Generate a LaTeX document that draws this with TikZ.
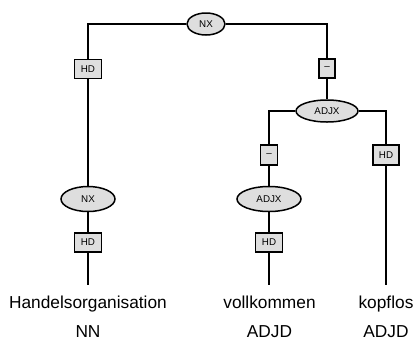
\documentclass[tikz,border=0pt]{standalone}
\usepackage{fontspec}
\setmainfont{Liberation Sans}
\usetikzlibrary{shapes.geometric}
\definecolor{nodefill}{HTML}{DEDEDE}
\begin{document}
\begin{tikzpicture}[x=1pt,y=-1pt,
  line width=1.6pt,
  cat/.style={ellipse,draw,fill=nodefill,inner sep=0pt,line width=1.5pt,font=\fontsize{9.8}{11}\selectfont},
  edgelab/.style={rectangle,draw,fill=nodefill,inner sep=0pt,line width=1.5pt,minimum height=19pt,font=\fontsize{9.8}{11}\selectfont},
  word/.style={anchor=base,inner xsep=0pt,inner ysep=9.4pt,text height=12.6pt,font=\fontsize{17.3}{20}\selectfont},
  tag/.style={anchor=base,inner sep=0pt,font=\fontsize{17.3}{20}\selectfont}]
\useasboundingbox (0,0) rectangle (415,341);
% category nodes
\node[cat,minimum width=38pt,minimum height=22pt] (nx1) at (206,24) {NX};
\node[cat,minimum width=62pt,minimum height=22pt] (adjx1) at (327,111) {ADJX};
\node[cat,minimum width=54pt,minimum height=25pt] (nx2) at (88,199) {NX};
\node[cat,minimum width=64pt,minimum height=25pt] (adjx2) at (269,199) {ADJX};
% edge labels
\node[edgelab,minimum width=27pt] (hd1) at (88,68.8) {HD};
\node[edgelab,minimum width=16pt] (m1) at (327,68.5) {\textendash};
\node[edgelab,minimum width=27pt] (hd2) at (88,242.5) {HD};
\node[edgelab,minimum width=17pt,minimum height=20pt] (m2) at (269,155) {\textendash};
\node[edgelab,minimum width=27pt] (hd3) at (269,242.5) {HD};
\node[edgelab,minimum width=26pt,minimum height=20pt] (hd4) at (386,155) {HD};
% words
\node[word] (w1) at (88,308) {Handelsorganisation};
\node[word] (w2) at (269.5,308) {vollkommen};
\node[word] (w3) at (386,308) {kopflos};
\node[tag] (t1) at (88,337.5) {NN};
\node[tag] (t2) at (269.5,337.5) {ADJD};
\node[tag] (t3) at (386,337.5) {ADJD};
% connectors
\draw (nx1) -| (hd1);
\draw (nx1) -| (m1);
\draw (hd1) -- (nx2);
\draw (nx2) -- (hd2);
\draw (hd2) -- (w1);
\draw (m1) -- (adjx1);
\draw (adjx1) -| (m2);
\draw (adjx1) -| (hd4);
\draw (m2) -- (adjx2);
\draw (adjx2) -- (hd3);
\draw (hd3) -- (w2.north -| hd3);
\draw (hd4) -- (w3);
\end{tikzpicture}
\end{document}
